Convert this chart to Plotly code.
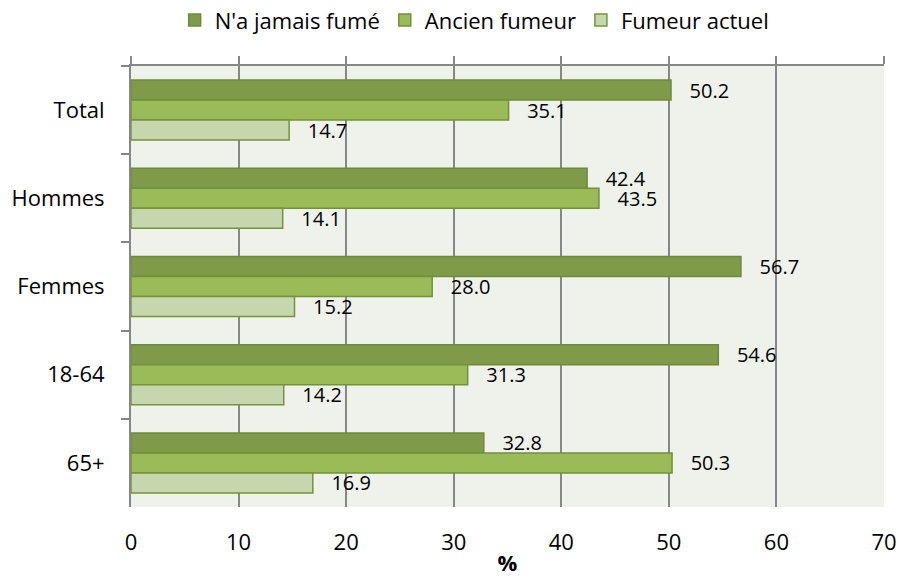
import plotly.graph_objects as go

categories = ["Total", "Hommes", "Femmes", "18-64", "65+"]
series_names = ["N'a jamais fumé", "Ancien fumeur", "Fumeur actuel"]
never_smoked = [50.2, 42.4, 56.7, 54.6, 32.8]
former_smoker = [35.1, 43.5, 28.0, 31.3, 50.3]
current_smoker = [14.7, 14.1, 15.2, 14.2, 16.9]
x_ticks = [0, 10, 20, 30, 40, 50, 60, 70]

fills = ["#7F9A48", "#9BBB59", "#C7D7AD"]
borders = ["#6E8A3A", "#71913A", "#76923C"]
FONT = "'Open Sans', Lato, sans-serif"

fig = go.Figure()
for name, vals, fc, bc in zip(series_names, [never_smoked, former_smoker, current_smoker], fills, borders):
    fig.add_trace(go.Bar(
        y=categories, x=vals, name=name, orientation="h",
        marker=dict(color=fc, line=dict(color=bc, width=1.5)),
        text=["   " + f"{v:.1f}" for v in vals],
        textposition="outside", constraintext="none", cliponaxis=False,
        textfont=dict(family=FONT, size=20, color="#000000"),
    ))

# invisible helper trace so the top axis (line with upward ticks) is drawn
fig.add_trace(go.Scatter(x=[0], y=[categories[0]], xaxis="x2", mode="markers",
                         marker=dict(opacity=0), showlegend=False, hoverinfo="skip"))

fig.update_layout(
    width=899, height=578,
    paper_bgcolor="white", plot_bgcolor="#EFF2EA",
    margin=dict(l=131, r=15, t=66, b=71),
    barmode="group", bargap=0.32, bargroupgap=0,
    font=dict(family=FONT, size=22, color="#000000"),
    legend=dict(orientation="h", x=0.528, xanchor="center", xref="container",
                y=0.965, yanchor="middle", yref="container", font=dict(family=FONT, size=22),
                itemwidth=30, tracegroupgap=0, traceorder="normal"),
    xaxis=dict(range=[0, 70], tickvals=x_ticks, showgrid=True, gridcolor="#878787", gridwidth=1.5,
               zeroline=False, showline=False, ticks="", tickfont=dict(size=22), ticklabelstandoff=20,
               automargin=False,
               title=dict(text="<b>%</b>", font=dict(size=22), standoff=0)),
    xaxis2=dict(range=[0, 70], tickvals=x_ticks, overlaying="x", side="top", showline=True,
                linecolor="#878787", linewidth=1.5, ticks="outside", ticklen=8, tickcolor="#878787",
                tickwidth=1.5, showticklabels=False, showgrid=False, zeroline=False, automargin=False),
    yaxis=dict(autorange="reversed", showline=True, linecolor="#878787", linewidth=2,
               ticks="outside", tickson="boundaries", ticklen=8, tickcolor="#878787", tickwidth=1.5,
               tickfont=dict(size=22), showgrid=False, ticklabelstandoff=20, automargin=False),
)

fig.write_html("out.html", config={"displayModeBar": False},
               post_script="document.body.style.margin='0';document.body.style.padding='0';")
